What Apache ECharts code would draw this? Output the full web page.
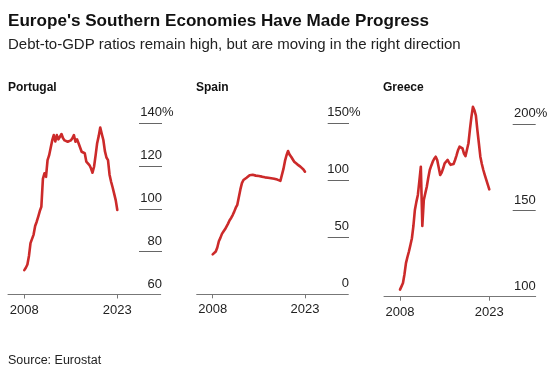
<!DOCTYPE html>
<html><head><meta charset="utf-8">
<script src="https://cdn.jsdelivr.net/npm/echarts@6/dist/echarts.min.js"></script>
<style>html,body{margin:0;padding:0;background:#fff}#c{width:554px;height:372px}</style>
</head><body><div id="c"></div>
<script>
// Quarterly debt-to-GDP (%), 2008Q1 .. 2023Q1
const startYear = 2008;
const portugal = [
  71.4, 72.5, 74, 78,
  84, 84.7, 88, 92,
  94, 96.4, 99, 101,
  114, 116.6, 115, 122.8,
  125, 128.5, 132, 134.5,
  131.5, 134.5, 132.5, 133,
  135, 133, 132, 131.5,
  131.4, 130.7, 132, 133,
  134.5, 131.4, 132.5, 130.7,
  130.7, 126.7, 126.5, 126,
  122.1, 121.5, 120.5, 119,
  116.9, 119.7, 125, 130.7,
  134, 138, 135, 132.2,
  127, 124, 122.8, 116,
  112.7, 110, 107, 104,
  99.5
];
const spain = [
  35, 36, 37.5, 41,
  46.5, 49.5, 53, 55,
  57, 58.5, 62, 65,
  67, 69.5, 72.5, 76,
  78.5, 80, 92, 97.5,
  100.3, 101.5, 102.3, 103.5,
  104.5, 105.3, 104.8, 104.5,
  104.1, 104.3, 103.7, 103.5,
  103.2, 103, 102.6, 102.3,
  102.3, 101.9, 101.8, 101.5,
  101.3, 101.1, 100.6, 100.3,
  99.5, 98.2, 110, 117,
  122, 125.7, 122.5, 120.7,
  118.5, 116.3, 115, 114,
  113.2, 112, 111.1, 109.5,
  107.5
];
const greece = [
  104.1, 106, 107.9, 113,
  119.5, 123, 126.2, 130,
  133.9, 141, 150.3, 155,
  159, 167, 175.4, 141.1,
  156.1, 160, 163.8, 169,
  173.5, 176, 178.3, 180,
  181.2, 179.3, 175, 170.6,
  172, 174.5, 177.4, 178.5,
  179.3, 177.7, 176.5, 175.8,
  177, 179.3, 182, 185,
  187, 187.5, 186, 183,
  181.5, 180.8, 189, 197,
  204.3, 210.1, 208.2, 205,
  196.6, 189, 181.2, 177,
  173.5, 170.5, 167.7, 165,
  162.3
];
const panelNames = ['Portugal', 'Spain', 'Greece'];
const yMins = [60, 0, 100];
const yMaxs = [140, 150, 200];
const yIntervals = [20, 50, 50];
const xTicks = [2008, 2023];

// layout (pixels)
const layout = [
  {l: 8, r: 160.7, gl: 139, gr: 162, t: 123.3, b: 294.5, xmin: 2005.37, xmax: 2030.0, tx: 8},
  {l: 196.7, r: 348.3, gl: 327.7, gr: 349, t: 123.3, b: 294.3, xmin: 2005.4, xmax: 2030.04, tx: 196},
  {l: 384, r: 535.7, gl: 512.7, gr: 535.7, t: 124.3, b: 296.7, xmin: 2005.31, xmax: 2030.8, tx: 383}
];
const datasets = [portugal, spain, greece];
const FONT = '"Liberation Sans", Arial, sans-serif';
const RED = '#cc2a2a';

const grid = [], xAxis = [], yAxis = [], series = [];
const titles = [
  {text: "Europe's Southern Economies Have Made Progress", left: 8, top: 13, padding: 0,
   textStyle: {fontFamily: FONT, fontSize: 17.1, fontWeight: 'bold', color: '#111'}},
  {text: 'Debt-to-GDP ratios remain high, but are moving in the right direction', left: 8, top: 37, padding: 0,
   textStyle: {fontFamily: FONT, fontSize: 15, fontWeight: 'normal', color: '#222'}},
  {text: 'Source: Eurostat', left: 8, top: 354, padding: 0,
   textStyle: {fontFamily: FONT, fontSize: 12.5, fontWeight: 'normal', color: '#222'}}
];

layout.forEach((p, i) => {
  titles.push({text: panelNames[i], left: p.tx, top: 82, padding: 0,
    textStyle: {fontFamily: FONT, fontSize: 12, fontWeight: 'bold', color: '#111'}});
  grid.push({left: p.l, top: p.t, width: p.r - p.l, height: p.b - p.t});
  grid.push({left: p.gl, top: p.t, width: p.gr - p.gl, height: p.b - p.t});
  xAxis.push({
    type: 'value', gridIndex: 2 * i, min: p.xmin, max: p.xmax,
    axisLine: {show: true, onZero: false, lineStyle: {color: '#777', width: 1}},
    axisTick: {show: true, customValues: xTicks, length: 4, lineStyle: {color: '#777'}},
    axisLabel: {customValues: xTicks, margin: 9, fontFamily: FONT, fontSize: 13, color: '#222',
      formatter: v => String(v)},
    splitLine: {show: false}
  });
  xAxis.push({type: 'value', gridIndex: 2 * i + 1, show: false, min: 0, max: 1});
  yAxis.push({type: 'value', gridIndex: 2 * i, show: false, min: yMins[i], max: yMaxs[i], interval: yIntervals[i]});
  yAxis.push({
    type: 'value', gridIndex: 2 * i + 1, position: 'right',
    min: yMins[i], max: yMaxs[i], interval: yIntervals[i],
    axisLine: {show: false}, axisTick: {show: false},
    splitLine: {show: true, showMinLine: false, lineStyle: {color: '#666', width: 1}},
    axisLabel: {
      inside: true, margin: 0, verticalAlign: 'bottom', padding: [0, 0, 4, 0],
      fontFamily: FONT, fontSize: 13, color: '#222',
      formatter: v => v === yMaxs[i] ? '{n|' + v + '}{p|%}' : '{n|' + v + '}',
      rich: {
        n: {fontFamily: FONT, fontSize: 13, color: '#222', align: 'left', verticalAlign: 'bottom'},
        p: {fontFamily: FONT, fontSize: 13, color: '#222', width: 0, align: 'left', verticalAlign: 'bottom'}
      }
    }
  });
  series.push({
    type: 'line', xAxisIndex: 2 * i, yAxisIndex: 2 * i,
    data: datasets[i].map((v, k) => [startYear + k / 4, v]),
    showSymbol: false, clip: false, smooth: false,
    lineStyle: {color: RED, width: 2.6, join: 'round', cap: 'round'},
    itemStyle: {color: RED}
  });
});

const chart = echarts.init(document.getElementById('c'), null, {renderer: 'canvas'});
chart.setOption({animation: false, backgroundColor: '#fff', title: titles, grid, xAxis, yAxis, series});
</script></body></html>
